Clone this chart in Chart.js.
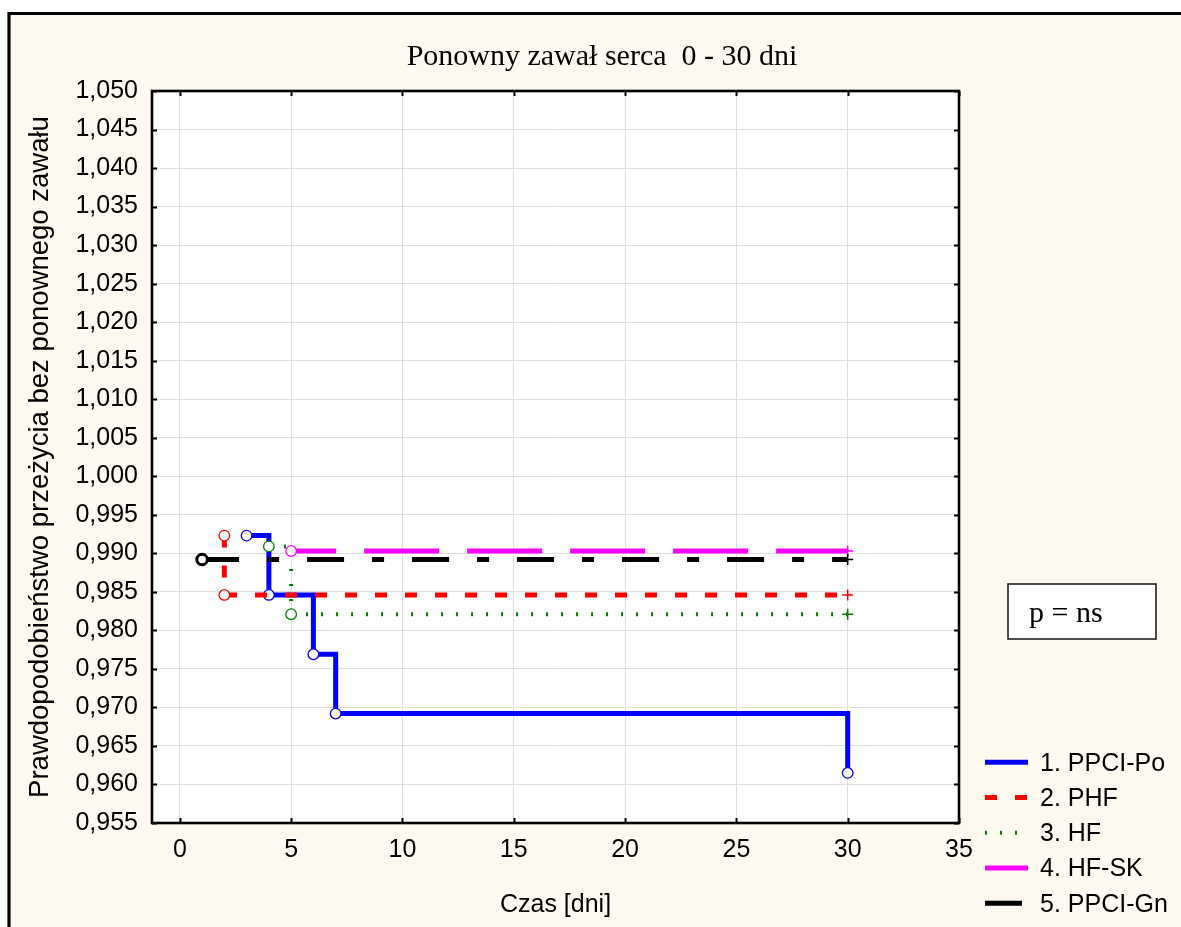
<!DOCTYPE html>
<html>
<head>
<meta charset="utf-8">
<script src="https://cdn.jsdelivr.net/npm/chart.js@4.4.1/dist/chart.umd.min.js"></script>
<style>
  html, body { margin: 0; padding: 0; background: #ffffff; }
  #wrap { width: 1181px; height: 927px; }
</style>
</head>
<body>
<div id="wrap"><canvas id="km" width="1181" height="927"></canvas></div>
<script>
// ---- texts ----
const chartTitle = 'Ponowny zawał serca  0 - 30 dni';
const xAxisTitle = 'Czas [dni]';
const yAxisTitle = 'Prawdopodobieństwo przeżycia bez ponownego zawału';
const pValueText = 'p = ns';

// ---- axis ticks ----
const xTicks = [0, 5, 10, 15, 20, 25, 30, 35];
const yTicks = [0.955, 0.960, 0.965, 0.970, 0.975, 0.980, 0.985, 0.990, 0.995, 1.000,
                1.005, 1.010, 1.015, 1.020, 1.025, 1.030, 1.035, 1.040, 1.045, 1.050];

// ---- Kaplan-Meier survival, one group per array set ----
const seriesLabels = ['1. PPCI-Po', '2. PHF', '3. HF', '4. HF-SK', '5. PPCI-Gn'];

const ppciPoDays     = [3, 4, 6, 7, 30];
const ppciPoSurvival = [0.9923, 0.9846, 0.9769, 0.9692, 0.9615];
const ppciPoMarks    = ['event', 'event', 'event', 'event', 'event'];

const phfDays     = [2, 2, 30];
const phfSurvival = [0.9923, 0.9846, 0.9846];
const phfMarks    = ['event', 'event', 'censored'];

const hfDays     = [4, 5, 30];
const hfSurvival = [0.9909, 0.9821, 0.9821];
const hfMarks    = ['event', 'event', 'censored'];

const hfSkDays     = [5, 30];
const hfSkSurvival = [0.9903, 0.9903];
const hfSkMarks    = ['event', 'censored'];

const ppciGnDays     = [1, 30];
const ppciGnSurvival = [0.9892, 0.9892];
const ppciGnMarks    = ['event', 'censored'];

// ---- styles ----
const FONT_SANS = "'Liberation Sans', Arial, sans-serif";
const FONT_SERIF = "'Liberation Serif', 'Times New Roman', serif";
const CREAM = '#fdf9ef';

function toPoints(days, surv) {
  return days.map((d, i) => ({ x: d, y: surv[i] }));
}

function makeSeries(label, days, surv, marks, style) {
  return {
    label: label,
    data: toPoints(days, surv),
    stepped: 'before',          // hold the level, then drop at the next time
    fill: false,
    tension: 0,
    borderColor: style.color,
    borderWidth: style.width,
    borderDash: style.dash,
    borderDashOffset: style.dashOffset || 0,
    borderCapStyle: 'butt',
    order: style.order,
    pointStyle: marks.map(m => m === 'event' ? 'circle' : 'cross'),
    pointRadius: marks.map(m => m === 'event' ? 5.3 : 5.5),
    pointBorderWidth: marks.map(m => m === 'event' ? (style.markWidth || 1.3) : 1.5),
    pointBorderColor: style.color,
    pointBackgroundColor: '#ffffff',
    pointHoverRadius: 0
  };
}

const datasets = [
  makeSeries(seriesLabels[0], ppciPoDays, ppciPoSurvival, ppciPoMarks,
    { color: '#0000ff', width: 5, dash: [], order: 5 }),
  makeSeries(seriesLabels[1], phfDays, phfSurvival, phfMarks,
    { color: '#ff0000', width: 5, dash: [12, 18], order: 4 }),
  makeSeries(seriesLabels[2], hfDays, hfSurvival, hfMarks,
    { color: '#008000', width: 4, dash: [2, 13], order: 3 }),
  makeSeries(seriesLabels[3], hfSkDays, hfSkSurvival, hfSkMarks,
    { color: '#ff00ff', width: 5, dash: [75, 28], dashOffset: 30, order: 2 }),
  makeSeries(seriesLabels[4], ppciGnDays, ppciGnSurvival, ppciGnMarks,
    { color: '#000000', width: 5, dash: [37, 28, 12, 28], order: 1, markWidth: 3 })
];

// page background, outer frame and white plotting area
const backdrop = {
  id: 'backdrop',
  beforeDraw(chart) {
    const { ctx, width, height, chartArea: a } = chart;
    ctx.save();
    ctx.fillStyle = '#ffffff';
    ctx.fillRect(0, 0, width, height);
    ctx.fillStyle = CREAM;
    ctx.fillRect(9, 13, width - 9, height - 13);
    ctx.strokeStyle = '#000000';
    ctx.lineWidth = 3.2;
    ctx.beginPath();
    ctx.moveTo(9, height + 5);
    ctx.lineTo(9, 13.5);
    ctx.lineTo(width + 5, 13.5);
    ctx.stroke();
    ctx.fillStyle = '#ffffff';
    ctx.fillRect(a.left, a.top, a.right - a.left, a.bottom - a.top);
    ctx.restore();
  }
};

// box around the plot with inward tick marks
const plotFrame = {
  id: 'plotFrame',
  afterDatasetsDraw(chart) {
    const { ctx, chartArea: a, scales } = chart;
    const tick = 5;
    ctx.save();
    ctx.strokeStyle = '#000000';
    ctx.lineWidth = 2;
    ctx.beginPath();
    xTicks.forEach(v => {
      const px = Math.round(scales.x.getPixelForValue(v)) + 0.5;
      ctx.moveTo(px, a.top); ctx.lineTo(px, a.top + tick);
      ctx.moveTo(px, a.bottom); ctx.lineTo(px, a.bottom - tick);
    });
    yTicks.forEach(v => {
      const py = Math.round(scales.y.getPixelForValue(v)) + 0.5;
      ctx.moveTo(a.left, py); ctx.lineTo(a.left + tick, py);
      ctx.moveTo(a.right, py); ctx.lineTo(a.right - tick, py);
    });
    ctx.stroke();
    ctx.lineWidth = 2.6;
    ctx.strokeRect(a.left, a.top, a.right - a.left, a.bottom - a.top);
    ctx.restore();
  }
};

// heading, p-value note and series key
const annotations = {
  id: 'annotations',
  afterDraw(chart) {
    const { ctx } = chart;
    ctx.save();
    ctx.fillStyle = '#000000';
    ctx.font = '30px ' + FONT_SERIF;
    ctx.textAlign = 'center';
    ctx.textBaseline = 'alphabetic';
    ctx.fillText(chartTitle, 602, 65);

    ctx.fillStyle = '#ffffff';
    ctx.fillRect(1008, 584, 148, 55);
    ctx.strokeStyle = '#222222';
    ctx.lineWidth = 1.6;
    ctx.strokeRect(1008, 584, 148, 55);
    ctx.fillStyle = '#000000';
    ctx.textAlign = 'left';
    ctx.font = '30px ' + FONT_SERIF;
    ctx.fillText(pValueText, 1029, 622);

    ctx.font = '25px ' + FONT_SANS;
    chart.data.datasets.forEach((ds, i) => {
      const base = 770.7 + i * 35.25;
      const ly = base - 8.5;
      ctx.strokeStyle = ds.borderColor;
      ctx.lineWidth = ds.borderWidth;
      ctx.lineCap = 'butt';
      ctx.setLineDash(ds.borderDash || []);
      ctx.beginPath();
      ctx.moveTo(985, ly);
      ctx.lineTo(1028, ly);
      ctx.stroke();
      ctx.setLineDash([]);
      ctx.fillStyle = '#000000';
      ctx.fillText(ds.label, 1040, base);
    });
    ctx.restore();
  }
};

new Chart(document.getElementById('km'), {
  type: 'line',
  data: { datasets: datasets },
  options: {
    responsive: false,
    animation: false,
    devicePixelRatio: 1,
    events: [],
    layout: { padding: { left: 10, top: 91, right: 222, bottom: 0 } },
    plugins: {
      legend: { display: false },
      title: { display: false },
      tooltip: { enabled: false }
    },
    scales: {
      x: {
        type: 'linear',
        min: -1.25,
        max: 35,
        afterBuildTicks: s => { s.ticks = xTicks.map(v => ({ value: v })); },
        afterFit: s => { s.height = 104; },
        grid: { color: '#dedede', lineWidth: 1, drawTicks: false },
        border: { display: false },
        ticks: {
          padding: 12,
          color: '#000000',
          autoSkip: false,
          maxRotation: 0,
          font: { family: FONT_SANS, size: 25 },
          callback: v => String(v)
        },
        title: {
          display: true,
          text: xAxisTitle,
          color: '#000000',
          font: { family: FONT_SANS, size: 25 },
          padding: { top: 0, bottom: 7 }
        }
      },
      y: {
        type: 'linear',
        min: 0.955,
        max: 1.05,
        afterBuildTicks: s => { s.ticks = yTicks.map(v => ({ value: v })); },
        afterFit: s => { s.width = 142; },
        grid: { color: '#dedede', lineWidth: 1, drawTicks: false },
        border: { display: false },
        ticks: {
          padding: 14,
          color: '#000000',
          autoSkip: false,
          font: { family: FONT_SANS, size: 25 },
          callback: v => v.toFixed(3).replace('.', ',')
        },
        title: {
          display: true,
          text: yAxisTitle,
          color: '#000000',
          font: { family: FONT_SANS, size: 27.5 },
          padding: { top: 14, bottom: 0 }
        }
      }
    }
  },
  plugins: [backdrop, plotFrame, annotations]
});
</script>
</body>
</html>
